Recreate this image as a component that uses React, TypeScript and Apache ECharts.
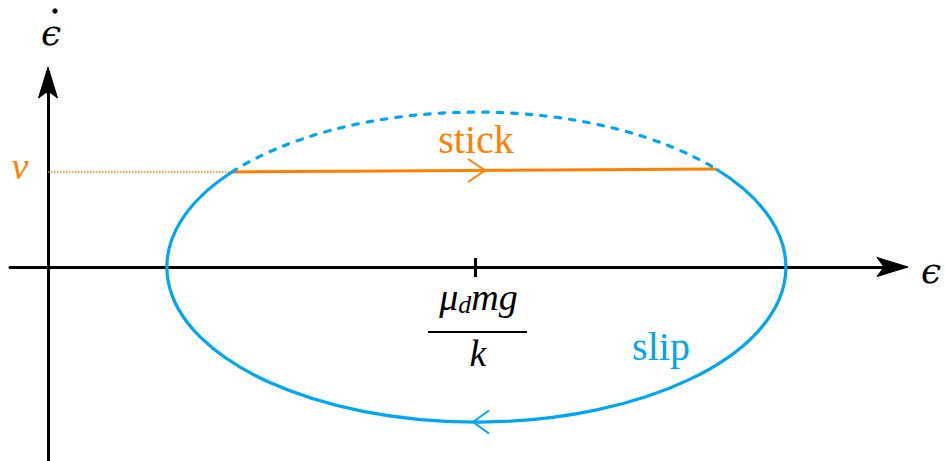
import React, { useEffect, useRef } from "react";
import * as echarts from "echarts";

const ORANGE = "#ff8000";
const BLUE = "#00a6ef";
const INK = "#000000";

// Phase plane: strain ε along x, strain rate ε̇ along y (100 px per unit)
const epsRange = [-0.38, 8.36];
const epsDotRange = [-1.94, 1.74];
const epsAxisTip = [8.6, 0];
const epsDotAxisTip = [0, 2.0];
const equilibrium = [4.275, 0]; // ε = μ_d m g / k
const orbitRadii = [3.095, 1.55]; // semi-axes of the slip orbit
const beltSpeed = 0.95; // v
const stickStart = [1.84, beltSpeed];
const stickEnd = [6.68, 0.98];
const stickArrowTip = [4.37, 0.965];
const slipArrowTip = [4.25, -1.55];

const FAMILY = "Liberation Serif";
const EPS_FAMILY = "DejaVu Serif";
const font = (size: number, italic = false, family = FAMILY) =>
  `${italic ? "italic " : ""}${size}px ${family}`;

function renderOrbit(_params: any, api: any) {
  const c = api.coord(equilibrium);
  const corner = api.coord([
    equilibrium[0] + orbitRadii[0],
    equilibrium[1] + orbitRadii[1],
  ]);
  const rx = corner[0] - c[0];
  const ry = c[1] - corner[1];
  const a = api.coord(stickStart);
  const b = api.coord(stickEnd);
  // lower (slip) part of the ellipse, and the unreachable upper part
  const slipPath = `M ${a[0]} ${a[1]} A ${rx} ${ry} 0 1 0 ${b[0]} ${b[1]}`;
  const freePath = `M ${a[0]} ${a[1]} A ${rx} ${ry} 0 0 1 ${b[0]} ${b[1]}`;
  return {
    type: "group",
    children: [
      {
        type: "path",
        shape: { pathData: freePath },
        style: {
          fill: "none",
          stroke: BLUE,
          lineWidth: 3.2,
          lineDash: [5.5, 9],
          lineCap: "round",
        },
      },
      {
        type: "path",
        shape: { pathData: slipPath },
        style: { fill: "none", stroke: BLUE, lineWidth: 3.2 },
      },
    ],
  };
}

// stealth-like arrowhead pointing along (dx, dy)
function arrowHead(tip: number[], dx: number, dy: number) {
  const len = 31;
  const half = 9.5;
  const notch = 24;
  const nx = -dy;
  const ny = dx;
  return {
    type: "polygon",
    shape: {
      points: [
        [tip[0], tip[1]],
        [tip[0] - dx * len + nx * half, tip[1] - dy * len + ny * half],
        [tip[0] - dx * notch, tip[1] - dy * notch],
        [tip[0] - dx * len - nx * half, tip[1] - dy * len - ny * half],
      ],
    },
    style: { fill: INK, stroke: INK, lineWidth: 1, lineJoin: "miter" },
  };
}

function renderMarkers(_params: any, api: any) {
  const s = api.coord(stickArrowTip);
  const p = api.coord(slipArrowTip);
  const e = api.coord(equilibrium);
  const xEnd = api.coord(epsAxisTip);
  const xStart = api.coord([epsRange[1], 0]);
  const yEnd = api.coord(epsDotAxisTip);
  const yStart = api.coord([0, epsDotRange[1]]);
  return {
    type: "group",
    children: [
      {
        type: "line",
        shape: { x1: xStart[0] - 1, y1: xStart[1], x2: xEnd[0] - 20, y2: xEnd[1] },
        style: { stroke: INK, lineWidth: 3 },
      },
      {
        type: "line",
        shape: { x1: yStart[0], y1: yStart[1] + 1, x2: yEnd[0], y2: yEnd[1] + 20 },
        style: { stroke: INK, lineWidth: 3 },
      },
      arrowHead(xEnd, 1, 0),
      arrowHead(yEnd, 0, -1),
      {
        type: "polyline",
        shape: {
          points: [
            [s[0] - 17, s[1] - 11.5],
            [s[0], s[1]],
            [s[0] - 17, s[1] + 11.5],
          ],
        },
        style: { fill: "none", stroke: ORANGE, lineWidth: 2 },
      },
      {
        type: "polyline",
        shape: {
          points: [
            [p[0] + 16, p[1] - 11.5],
            [p[0], p[1]],
            [p[0] + 16, p[1] + 11.5],
          ],
        },
        style: { fill: "none", stroke: BLUE, lineWidth: 2 },
      },
      {
        type: "line",
        shape: { x1: e[0], y1: e[1] - 9, x2: e[0], y2: e[1] + 10 },
        style: { stroke: INK, lineWidth: 3 },
      },
      {
        type: "text",
        x: e[0] + 3,
        y: e[1] + 30,
        style: {
          text: "{m|μ}{s|d}{m|mg}",
          align: "center",
          verticalAlign: "middle",
          fill: INK,
          rich: {
            m: { font: font(38, true), lineHeight: 40, fill: INK },
            s: {
              font: font(26, true),
              lineHeight: 20,
              verticalAlign: "bottom",
              fill: INK,
            },
          },
        },
      },
      {
        type: "line",
        shape: { x1: e[0] - 47.5, y1: e[1] + 65, x2: e[0] + 51.5, y2: e[1] + 65 },
        style: { stroke: INK, lineWidth: 2 },
      },
      {
        type: "text",
        x: e[0] + 2.5,
        y: e[1] + 86,
        style: {
          text: "k",
          align: "center",
          verticalAlign: "middle",
          font: font(38, true),
          fill: INK,
        },
      },
    ],
  };
}

const label = (text: string, x: number, y: number, f: string, fill: string) => ({
  type: "text",
  x,
  y,
  style: { text, align: "center", verticalAlign: "middle", font: f, fill },
});

export default function App() {
  const ref = useRef<HTMLDivElement>(null);

  useEffect(() => {
    if (!ref.current) return;
    const chart = echarts.init(ref.current, undefined, { renderer: "svg" });
    const axisLine = {
      onZero: true,
      lineStyle: { color: INK, width: 3 },
      symbol: "none",
    };
    chart.setOption({
      animation: false,
      backgroundColor: "#ffffff",
      grid: { left: 10, right: 61, top: 93, bottom: 0 },
      xAxis: {
        type: "value",
        min: epsRange[0],
        max: epsRange[1],
        splitLine: { show: false },
        axisTick: { show: false },
        axisLabel: { show: false },
        axisLine,
      },
      yAxis: {
        type: "value",
        min: epsDotRange[0],
        max: epsDotRange[1],
        splitLine: { show: false },
        axisTick: { show: false },
        axisLabel: { show: false },
        axisLine,
      },
      series: [
        {
          name: "v level",
          type: "line",
          data: [[0, beltSpeed], stickStart],
          symbol: "none",
          lineStyle: { color: ORANGE, width: 1.5, type: [1.5, 1.5] },
          z: 2,
        },
        {
          name: "stick",
          type: "line",
          data: [stickStart, stickEnd],
          symbol: "none",
          lineStyle: { color: ORANGE, width: 3 },
          z: 3,
        },
        {
          name: "slip orbit",
          type: "custom",
          renderItem: renderOrbit,
          data: [equilibrium],
          clip: false,
          z: 4,
        },
        {
          name: "markers",
          type: "custom",
          renderItem: renderMarkers,
          data: [equilibrium],
          clip: false,
          z: 5,
        },
      ],
      graphic: [
        label("ϵ", 51, 32, font(36, true, EPS_FAMILY), INK),
        { type: "circle", shape: { cx: 55, cy: 11, r: 2.6 }, style: { fill: INK } },
        label("ϵ", 931, 270, font(36, true, EPS_FAMILY), INK),
        label("v", 20, 166, font(38, true), ORANGE),
        label("stick", 476, 139, font(40), ORANGE),
        label("slip", 661, 346, font(40), BLUE),
      ],
    });
    return () => chart.dispose();
  }, []);

  return (
    <div
      ref={ref}
      style={{ position: "fixed", left: 0, top: 0, width: 945, height: 461 }}
    />
  );
}
